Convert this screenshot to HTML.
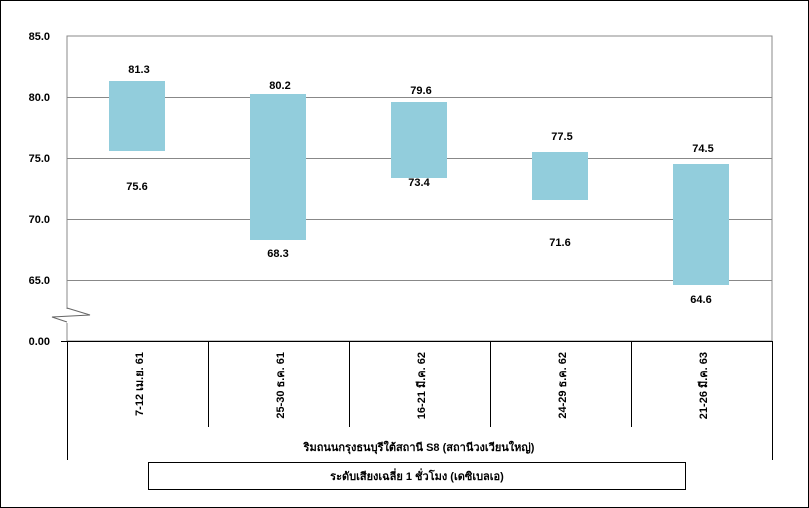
<!DOCTYPE html>
<html><head><meta charset="utf-8"><style>
body{margin:0;background:#fff}
svg{display:block}
text{font-family:"Liberation Sans","Noto Sans CJK SC",sans-serif;font-size:11px;fill:#000}
.b{font-weight:bold}
</style></head><body>
<svg width="809" height="508" viewBox="0 0 809 508">
<rect x="0.5" y="0.5" width="808" height="507" fill="#fff" stroke="#000"/>
<rect x="67" y="36" width="705" height="305" fill="#fff" stroke="#888" stroke-width="1"/>
<g stroke="#888">
<line x1="67" y1="97.5" x2="772" y2="97.5"/>
<line x1="67" y1="158.5" x2="772" y2="158.5"/>
<line x1="67" y1="219.5" x2="772" y2="219.5"/>
<line x1="67" y1="280.5" x2="772" y2="280.5"/>
</g>
<rect x="66" y="309" width="3" height="14" fill="#fff"/>
<polyline points="67,308 90,315 52,317 67,322" fill="none" stroke="#666"/>
<g fill="#92CDDC">
<rect x="109" y="81" width="56" height="70"/>
<rect x="250" y="94" width="56" height="146"/>
<rect x="391" y="102" width="56" height="76"/>
<rect x="532" y="152" width="56" height="48"/>
<rect x="673" y="164" width="56" height="121"/>
</g>
<g class="b" text-anchor="end">
<text x="50" y="40">85.0</text><text x="50" y="101">80.0</text><text x="50" y="162">75.0</text>
<text x="50" y="223">70.0</text><text x="50" y="284">65.0</text><text x="50" y="345">0.00</text>
</g>
<g class="b" text-anchor="middle">
<text x="139" y="73">81.3</text><text x="137" y="190">75.6</text>
<text x="280" y="89">80.2</text><text x="278" y="257">68.3</text>
<text x="421" y="94">79.6</text><text x="419" y="186">73.4</text>
<text x="562" y="140">77.5</text><text x="560" y="246">71.6</text>
<text x="703" y="152">74.5</text><text x="701" y="303">64.6</text>
</g>
<g stroke="#000">
<line x1="61" y1="341.5" x2="772" y2="341.5"/>
<line x1="67.5" y1="341" x2="67.5" y2="460"/>
<line x1="208.5" y1="341" x2="208.5" y2="427"/>
<line x1="349.5" y1="341" x2="349.5" y2="427"/>
<line x1="490.5" y1="341" x2="490.5" y2="427"/>
<line x1="631.5" y1="341" x2="631.5" y2="427"/>
<line x1="772.5" y1="341" x2="772.5" y2="460"/>
</g>
<g class="b" text-anchor="end">
<text transform="translate(143,352) rotate(-90)">7-12 เม.ย. 61</text>
<text transform="translate(284,352) rotate(-90)">25-30 ธ.ค. 61</text>
<text transform="translate(425,352) rotate(-90)">16-21 มี.ค. 62</text>
<text transform="translate(566,352) rotate(-90)">24-29 ธ.ค. 62</text>
<text transform="translate(707,352) rotate(-90)">21-26 มี.ค. 63</text>
</g>
<text class="b" x="419" y="451" text-anchor="middle">ริมถนนกรุงธนบุรีใต้สถานี S8 (สถานีวงเวียนใหญ่)</text>
<rect x="148.5" y="462.5" width="537" height="27" fill="#fff" stroke="#000"/>
<text class="b" x="417" y="480" text-anchor="middle">ระดับเสียงเฉลี่ย 1 ชั่วโมง (เดซิเบลเอ)</text>
</svg>
</body></html>
